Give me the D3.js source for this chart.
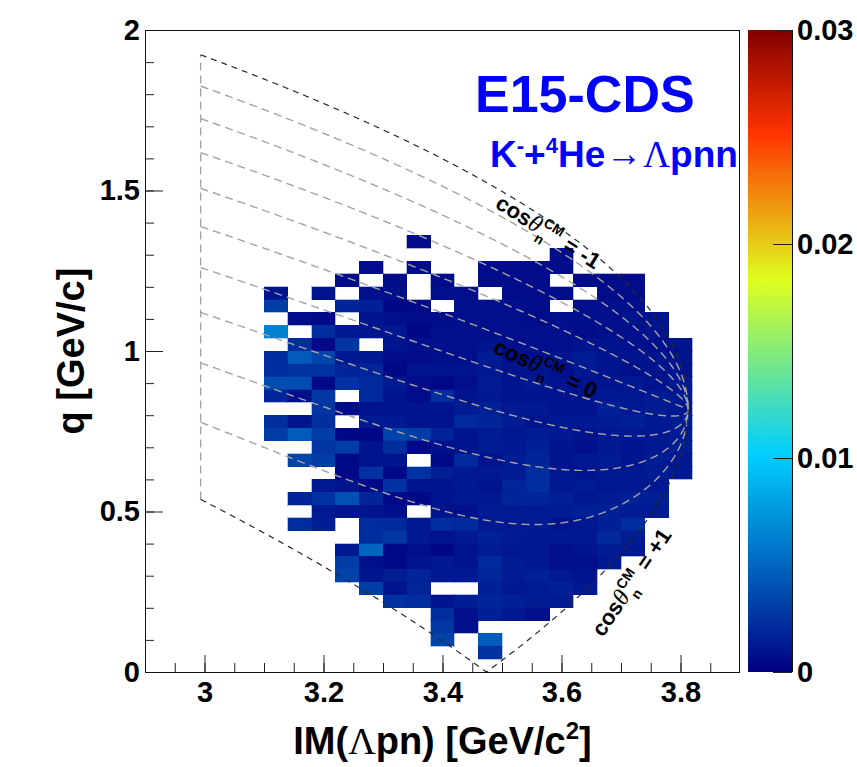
<!DOCTYPE html>
<html><head><meta charset="utf-8">
<script src="https://cdn.jsdelivr.net/npm/d3@7"></script>
<style>body{margin:0;background:#fff}</style>
</head><body>
<svg id="c" width="857" height="767"></svg>
<script>
// ---------------- data ----------------
// lower edges of the IM(Λpn) bins (columns) and of the q bins (rows, top to bottom)
const imBinLow = [3.10,3.14,3.18,3.22,3.26,3.30,3.34,3.38,3.42,3.46,3.50,3.54,3.58,3.62,3.66,3.70,3.74,3.78];
const qBinLow = [1.32,1.28,1.24,1.20,1.16,1.12,1.08,1.04,1.00,0.96,0.92,0.88,0.84,0.80,0.76,0.72,0.68,0.64,0.60,0.56,0.52,0.48,0.44,0.40,0.36,0.32,0.28,0.24,0.20,0.16,0.12,0.08,0.04];
const binWidth = 0.04;
const densityUnit = 1e-4;
// bin contents in units of 1e-4 (0 = empty)
const density = [
 [0,0,0,0,0,0,6,0,0, 0,0,0,0,0,0,0,0,0],
 [0,0,0,0,0,0,0,0,0, 0,0,0,6,0,0,0,0,0],
 [0,0,0,0,6,0,6,0,0, 6,6,6,6,0,0,0,0,0],
 [0,0,0,6,0,6,0,6,0, 6,6,6,0,6,6,6,0,0],
 [10,0,10,0,8,8,0,8,8, 0,6,6,6,0,6,6,0,0],
 [30,0,0,18,16,4,5,0,8, 8,8,6,0,8,8,8,0,0],
 [0,6,5,0,10,8,6,6,8, 8,8,6,8,8,8,10,10,0],
 [64,0,22,12,11,12,4,8,8, 8,8,8,8,6,8,8,10,0],
 [0,22,5,26,0,10,8,8,8, 10,8,8,8,10,10,8,8,10],
 [22,45,34,12,12,6,6,8,8, 14,8,8,10,14,10,10,10,10],
 [22,25,25,18,18,4,10,10,10, 12,10,10,8,12,10,8,10,10],
 [38,38,5,25,20,13,6,4,8, 14,10,12,10,10,10,12,10,12],
 [18,8,27,0,20,10,6,22,10, 12,10,10,10,10,12,12,14,12],
 [0,0,26,5,10,10,10,10,14, 16,12,12,10,10,16,12,14,12],
 [23,11,23,0,13,13,10,10,20, 18,14,10,12,12,14,16,12,14],
 [30,45,30,4,4,33,30,17,10, 14,12,14,12,10,12,12,12,14],
 [0,0,26,30,10,22,5,8,10, 14,12,16,10,8,12,10,12,14],
 [0,33,30,5,10,10,0,5,20, 10,14,18,10,12,14,10,14,12],
 [0,0,0,5,25,5,25,15,12, 12,14,22,12,10,12,12,14,12],
 [0,0,12,10,5,25,10,10,12, 10,18,22,12,14,12,12,12,0],
 [0,18,25,40,18,5,5,10,12, 12,18,18,16,12,14,16,16,0],
 [0,0,13,10,10,8,0,10,8, 14,14,14,14,16,16,14,14,0],
 [0,22,15,0,22,20,12,22,20, 12,12,14,10,12,16,22,0,0],
 [0,0,0,0,22,27,12,10,12, 16,14,12,12,12,20,14,0,0],
 [0,0,0,13,50,5,8,4,10, 14,12,12,8,10,14,12,0,0],
 [0,0,0,30,8,5,10,12,10, 20,14,12,8,8,12,0,0,0],
 [0,0,0,33,10,15,18,12,12, 18,14,16,12,10,0,0,0,0],
 [0,0,0,0,30,10,18,0,0, 16,12,14,16,12,0,0,0,0],
 [0,0,0,0,0,25,22,10,15, 18,16,14,14,0,0,0,0,0],
 [0,0,0,0,0,0,0,22,8, 16,12,8,0,0,0,0,0,0],
 [0,0,0,0,0,0,0,27,8, 0,0,0,0,0,0,0,0,0],
 [0,0,0,0,0,0,0,33,0, 45,0,0,0,0,0,0,0,0],
 [0,0,0,0,0,0,0,0,0, 25,0,0,0,0,0,0,0,0]
];
const xTicks = [3, 3.2, 3.4, 3.6, 3.8];
const yTicks = [0, 0.5, 1, 1.5, 2];
const zTicks = [0, 0.01, 0.02, 0.03];
const zMax = 0.03;
const paletteStops = [0, 0.34, 0.61, 0.84, 1];
const paletteColors = ["rgb(0,0,130)","rgb(0,207,255)","rgb(222,255,31)","rgb(255,51,0)","rgb(130,0,0)"];
// kinematic curves: constant cos(theta_n^CM)
const cosValues = [-1,-0.8,-0.6,-0.4,-0.2,0,0.2,0.4,0.6,0.8,1];
const pBeam = 1.02, mK = 0.493677, mHe = 3.72738, mL = 1.115683, mp = 0.938272, mn = 0.939565;

// ---------------- layout ----------------
const L = 145, R = 740, T = 30, B = 672;
const x = d3.scaleLinear().domain([2.9, 3.9]).range([L, R]);
const y = d3.scaleLinear().domain([0, 2]).range([B, T]);
const z = d3.scaleLinear().domain(paletteStops.map(s => s * zMax)).range(paletteColors)
  .interpolate(d3.interpolateRgb).clamp(true);
const FONT = "'Liberation Sans', Arial, Helvetica, sans-serif";
const SERIF = "'Liberation Serif', 'DejaVu Serif', serif";

const svg = d3.select("#c");
svg.append("rect").attr("width", 857).attr("height", 767).attr("fill", "#fff");
const defs = svg.append("defs");
defs.append("clipPath").attr("id", "plotclip").append("rect")
  .attr("x", L).attr("y", T).attr("width", R - L).attr("height", B - T);

// ---------------- cells ----------------
const cells = [];
density.forEach((row, ri) => row.forEach((v, ci) => {
  if (v > 0) cells.push({im: imBinLow[ci], q: qBinLow[ri], v: v * densityUnit});
}));
svg.append("g").attr("shape-rendering", "crispEdges")
  .selectAll("rect").data(cells).join("rect")
  .attr("x", d => x(d.im))
  .attr("y", d => y(d.q + binWidth))
  .attr("width", d => x(d.im + binWidth) - x(d.im))
  .attr("height", d => y(d.q) - y(d.q + binWidth))
  .attr("fill", d => z(d.v))
  .attr("stroke", d => z(d.v)).attr("stroke-width", 0.3);

// ---------------- kinematic curves ----------------
const EK = Math.sqrt(pBeam * pBeam + mK * mK);
const s = mK * mK + mHe * mHe + 2 * EK * mHe;
const rs = Math.sqrt(s);
const Etot = EK + mHe;
const beta = pBeam / Etot, gamma = Etot / rs;
const m0 = mL + mp + mn;
const pStarMax = Math.sqrt((s - (m0 + mn) ** 2) * (s - (m0 - mn) ** 2)) / (2 * rs);
function curve(c) {
  const N = 500, pts = [];
  for (let k = 0; k <= N; k++) {
    const ps = pStarMax * (1 - k / N);
    const En = Math.sqrt(ps * ps + mn * mn);
    const M = Math.sqrt(Math.max(0, (rs - En) ** 2 - ps * ps));
    const pL = gamma * (ps * c + beta * En);
    const pT = ps * Math.sqrt(Math.max(0, 1 - c * c));
    pts.push([M, Math.hypot(pBeam - pL, pT)]);
  }
  return pts;
}
const line = d3.line().x(d => x(d[0])).y(d => y(d[1]));
const gc = svg.append("g").attr("clip-path", "url(#plotclip)").attr("fill", "none");
const qTop = curve(-1)[0][1], qBot = curve(1)[0][1];
gc.append("path").attr("d", line([[m0, qBot], [m0, qTop]]))
  .attr("stroke", "#a4a4a4").attr("stroke-width", 1.4).attr("stroke-dasharray", "8,5");
cosValues.forEach(c => {
  const edge = Math.abs(c) === 1;
  gc.append("path").attr("d", line(curve(c)))
    .attr("stroke", edge ? "#2a2a2a" : "#a4a4a4")
    .attr("stroke-width", edge ? 1.2 : 1.4)
    .attr("stroke-dasharray", edge ? "6,5" : "8,5");
});

// ---------------- axes ----------------
function styleAxis(g) {
  g.select(".domain").remove();
  g.selectAll(".tick line").attr("stroke", "#222").attr("stroke-width", 1);
  g.selectAll("text").attr("font-family", FONT).attr("font-weight", "bold")
    .attr("font-size", 29).attr("fill", "#000");
}
const xMinor = d3.range(0, 21).map(i => 2.9 + i * 0.05).filter(v => v > 2.9 && v < 3.9);
svg.append("g").attr("transform", `translate(0,${B})`)
  .call(d3.axisBottom(x).tickValues(xMinor).tickFormat("").tickSizeInner(-9).tickSizeOuter(0))
  .call(styleAxis);
svg.append("g").attr("transform", `translate(0,${B})`)
  .call(d3.axisBottom(x).tickValues(xTicks).tickFormat(d3.format("")).tickSizeInner(-17).tickSizeOuter(0).tickPadding(9))
  .call(styleAxis);
const yMinor = d3.range(0, 21).map(i => i * 0.1).filter(v => v > 0 && v < 2);
svg.append("g").attr("transform", `translate(${L},0)`)
  .call(d3.axisLeft(y).tickValues(yMinor).tickFormat("").tickSizeInner(-9).tickSizeOuter(0))
  .call(styleAxis);
svg.append("g").attr("transform", `translate(${L},0)`)
  .call(d3.axisLeft(y).tickValues(yTicks).tickFormat(d3.format("")).tickSizeInner(-18).tickSizeOuter(0).tickPadding(5))
  .call(styleAxis);

// frame
svg.append("rect").attr("x", L + 0.5).attr("y", T + 0.5).attr("width", R - L - 1).attr("height", B - T)
  .attr("fill", "none").attr("stroke", "#111").attr("stroke-width", 1);

// ---------------- colour bar ----------------
const CBL = 748, CBR = 792;
const grad = defs.append("linearGradient").attr("id", "pal")
  .attr("x1", 0).attr("y1", 1).attr("x2", 0).attr("y2", 0);
paletteStops.forEach((st, i) => grad.append("stop").attr("offset", st).attr("stop-color", paletteColors[i]));
svg.append("rect").attr("x", CBL).attr("y", T).attr("width", CBR - CBL).attr("height", B - T)
  .attr("fill", "url(#pal)");
const zAxisScale = d3.scaleLinear().domain([0, zMax]).range([B, T]);
svg.append("g").attr("transform", `translate(${CBR},0)`)
  .call(d3.axisRight(zAxisScale).tickValues(zTicks).tickFormat(d3.format("")).tickSizeInner(-19).tickSizeOuter(0).tickPadding(5))
  .call(styleAxis);
svg.append("line").attr("x1", CBR + 0.5).attr("x2", CBR + 0.5).attr("y1", T).attr("y2", B)
  .attr("stroke", "#111");

// ---------------- axis titles ----------------
const xt = svg.append("text").attr("x", (L + R) / 2).attr("y", 754).attr("text-anchor", "middle")
  .attr("font-family", FONT).attr("font-weight", "bold").attr("font-size", 38);
xt.append("tspan").text("IM(");
xt.append("tspan").attr("font-family", SERIF).attr("font-weight", "normal").text("Λ");
xt.append("tspan").text("pn) [GeV/c");
xt.append("tspan").attr("font-size", 24).attr("dy", -15).text("2");
xt.append("tspan").attr("dy", 15).text("]");

svg.append("text").attr("transform", `translate(84,${(T + B) / 2}) rotate(-90)`)
  .attr("text-anchor", "middle").attr("font-family", FONT).attr("font-weight", "bold")
  .attr("font-size", 38).text("q [GeV/c]");

// ---------------- annotations ----------------
svg.append("text").attr("x", 475).attr("y", 112).attr("font-family", FONT).attr("font-weight", "bold")
  .attr("font-size", 52).attr("fill", "#0000ff").text("E15-CDS");

// reaction label: K- + 4He -> Λ p n n
const RX = 490, RY = 167, RFS = 37;
const rt1 = svg.append("text").attr("x", RX).attr("y", RY).attr("font-family", FONT)
  .attr("font-weight", "bold").attr("font-size", RFS).attr("fill", "#0000ff");
rt1.append("tspan").text("K");
rt1.append("tspan").attr("font-size", 22).attr("dy", -14).text("-");
rt1.append("tspan").attr("dy", 14).text("+");
rt1.append("tspan").attr("font-size", 22).attr("dy", -14).text("4");
rt1.append("tspan").attr("dy", 14).text("He");
const w1 = rt1.node().getComputedTextLength();
const ax0 = RX + w1 + 1;
const arrow = svg.append("text").attr("font-family", SERIF).attr("font-size", RFS)
  .attr("fill", "#0000ff").text("→");
const aw = arrow.node().getComputedTextLength();
const arrowTarget = 36;
const sx = arrowTarget / aw;
arrow.attr("transform", `translate(${ax0},${RY - 1}) scale(${sx},1)`);
const rt3 = svg.append("text").attr("x", ax0 + arrowTarget + 1).attr("y", RY).attr("font-size", RFS)
  .attr("fill", "#0000ff");
rt3.append("tspan").attr("font-family", SERIF).text("Λ");
rt3.append("tspan").attr("font-family", FONT).attr("font-weight", "bold").text("pnn");

function cosLabel(ox, oy, angle, rhs) {
  const g = svg.append("g").attr("transform", `translate(${ox},${oy}) rotate(${angle})`)
    .attr("font-family", FONT).attr("font-weight", "bold").attr("fill", "#000");
  g.append("text").attr("x", 0).attr("y", 0).attr("font-size", 22).text("cos");
  g.append("text").attr("x", 38).attr("y", 0).attr("font-size", 24).attr("font-family", SERIF)
    .attr("font-weight", "normal").attr("font-style", "italic").text("θ");
  g.append("text").attr("x", 51).attr("y", -10).attr("font-size", 14).text("CM");
  g.append("text").attr("x", 51).attr("y", 8).attr("font-size", 14).text("n");
  g.append("text").attr("x", 80).attr("y", 0).attr("font-size", 22).text(rhs);
}
cosLabel(494, 207, 32, "= -1");
cosLabel(492, 352, 25, "= 0");
cosLabel(603, 638, -56, "= +1");
</script>
</body></html>
